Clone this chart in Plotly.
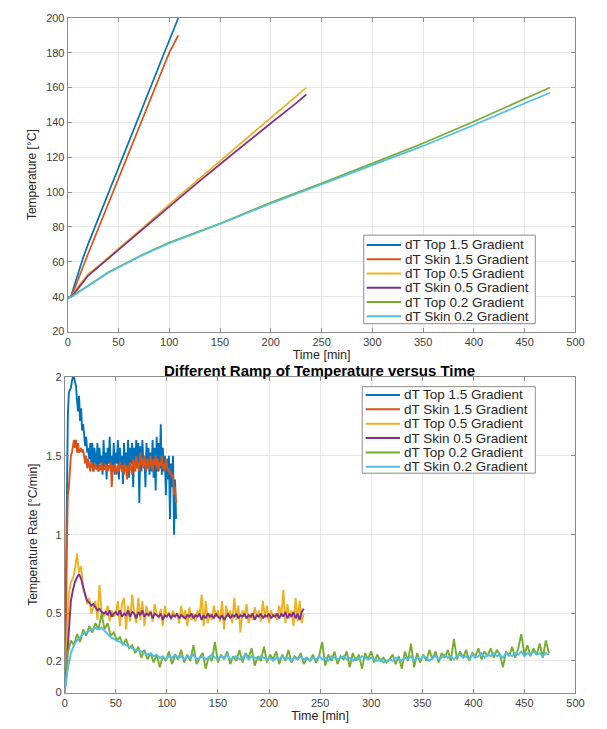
import plotly.graph_objects as go

# ---------------- data: temperature (top panel) ----------------
t_top15 = [0, 3, 5, 10, 15, 20, 30, 40, 50, 60, 70, 80, 90, 100, 109]
T_top15 = [39, 40, 43.5, 53, 62, 70, 85, 99.5, 114, 128.5, 143.5, 158, 172.5, 187, 200]
t_skin15 = [0, 3, 5, 10, 15, 20, 30, 40, 50, 60, 70, 80, 90, 100, 109]
T_skin15 = [39, 40, 42, 49, 57, 64.5, 79, 93.5, 108, 122.5, 137, 151.5, 166, 180, 190]
t_top05 = [0, 5, 10, 15, 20, 30, 40, 50, 75, 100, 125, 150, 175, 200, 225, 235]
T_top05 = [39, 41.5, 45.5, 49.5, 53, 57.5, 62.5, 67, 80, 93, 105.5, 118, 130.5, 143, 155.5, 160]
t_skin05 = [0, 5, 10, 15, 20, 30, 40, 50, 75, 100, 125, 150, 175, 200, 225, 235]
T_skin05 = [39, 41, 44.5, 48.5, 52, 57, 62, 66.5, 79, 92, 104, 116, 128, 139.5, 151, 156]
t_top02 = [0, 5, 10, 20, 30, 40, 50, 75, 100, 150, 200, 250, 300, 350, 400, 450, 475]
T_top02 = [39, 40.5, 42.5, 46.5, 50.5, 54, 57, 64.5, 71, 82, 94, 105, 116.5, 128, 140.5, 153.5, 160]
t_skin02 = [0, 5, 10, 20, 30, 40, 50, 75, 100, 150, 200, 250, 300, 350, 400, 450, 475]
T_skin02 = [39, 40.3, 42.2, 46.2, 50.2, 53.7, 56.7, 64.2, 70.7, 81.7, 93.5, 104.3, 115.5, 126.5, 138.5, 151, 157]

# ---------------- data: temperature rate (bottom panel) ----------------
rate_t15 = list(range(0, 110, 1))
rate_top15 = [0.00, 0.60, 1.30, 1.75, 1.90, 1.92, 1.93, 1.97, 2.00, 2.00,
              1.96, 1.94, 1.85, 1.78, 1.88, 1.72, 1.80, 1.66, 1.70, 1.60,
              1.56, 1.62, 1.52, 1.55, 1.48, 1.58, 1.45, 1.58, 1.40, 1.55,
              1.48, 1.42, 1.58, 1.40, 1.55, 1.45, 1.50, 1.38, 1.60, 1.42,
              1.52, 1.35, 1.55, 1.45, 1.62, 1.40, 1.50, 1.42, 1.58, 1.38,
              1.52, 1.45, 1.60, 1.35, 1.55, 1.42, 1.50, 1.32, 1.58, 1.44,
              1.52, 1.40, 1.60, 1.36, 1.55, 1.45, 1.58, 1.30, 1.55, 1.42,
              1.60, 1.45, 1.58, 1.20, 1.56, 1.40, 1.60, 1.44, 1.50, 1.30,
              1.58, 1.42, 1.55, 1.38, 1.52, 1.40, 1.60, 1.36, 1.55, 1.28,
              1.62, 1.40, 1.58, 1.42, 1.70, 1.38, 1.55, 1.40, 1.50, 1.25,
              1.48, 1.35, 1.50, 1.10, 1.45, 1.30, 1.50, 1.00, 1.35, 1.10]
rate_skin15 = [0.00, 0.30, 0.90, 1.25, 1.30, 1.45, 1.50, 1.52, 1.58, 1.60,
               1.55, 1.60, 1.52, 1.58, 1.52, 1.53, 1.55, 1.52, 1.54, 1.50,
               1.45, 1.50, 1.42, 1.48, 1.45, 1.40, 1.46, 1.44, 1.40, 1.42,
               1.45, 1.41, 1.43, 1.40, 1.44, 1.41, 1.46, 1.40, 1.43, 1.41,
               1.45, 1.42, 1.40, 1.44, 1.42, 1.46, 1.30, 1.44, 1.40, 1.45,
               1.42, 1.38, 1.44, 1.40, 1.46, 1.42, 1.40, 1.44, 1.38, 1.45,
               1.42, 1.35, 1.44, 1.40, 1.46, 1.42, 1.38, 1.48, 1.44, 1.40,
               1.50, 1.42, 1.46, 1.40, 1.52, 1.44, 1.48, 1.42, 1.50, 1.46,
               1.40, 1.48, 1.44, 1.42, 1.50, 1.45, 1.40, 1.48, 1.44, 1.50,
               1.42, 1.48, 1.40, 1.46, 1.44, 1.50, 1.42, 1.45, 1.40, 1.48,
               1.44, 1.40, 1.42, 1.38, 1.40, 1.36, 1.38, 1.25, 1.30, 1.20]

rate_t05 = list(range(0, 236, 2))
rate_top05 = [0.00, 0.35, 0.62, 0.70, 0.72, 0.78, 0.88, 0.76, 0.80, 0.66,
              0.62, 0.56, 0.60, 0.50, 0.54, 0.58, 0.46, 0.68, 0.52, 0.48,
              0.50, 0.55, 0.45, 0.52, 0.48, 0.50, 0.58, 0.42, 0.56, 0.60,
              0.40, 0.55, 0.45, 0.62, 0.50, 0.44, 0.60, 0.46, 0.58, 0.42,
              0.55, 0.48, 0.52, 0.45, 0.56, 0.50, 0.47, 0.53, 0.42, 0.55,
              0.48, 0.51, 0.46, 0.52, 0.48, 0.50, 0.44, 0.55, 0.47, 0.52,
              0.42, 0.54, 0.46, 0.50, 0.45, 0.52, 0.48, 0.62, 0.42, 0.58,
              0.44, 0.50, 0.46, 0.55, 0.48, 0.52, 0.45, 0.58, 0.40, 0.55,
              0.48, 0.52, 0.44, 0.60, 0.46, 0.55, 0.38, 0.52, 0.48, 0.56,
              0.44, 0.50, 0.46, 0.54, 0.48, 0.52, 0.45, 0.58, 0.47, 0.55,
              0.44, 0.52, 0.48, 0.50, 0.46, 0.55, 0.48, 0.65, 0.44, 0.56,
              0.47, 0.52, 0.42, 0.60, 0.45, 0.58, 0.44, 0.50]
rate_skin05 = [0.00, 0.20, 0.45, 0.58, 0.65, 0.70, 0.73, 0.75, 0.72, 0.66,
               0.62, 0.58, 0.57, 0.55, 0.56, 0.54, 0.52, 0.53, 0.51, 0.50,
               0.51, 0.49, 0.52, 0.48, 0.50, 0.51, 0.49, 0.52, 0.48, 0.50,
               0.49, 0.52, 0.48, 0.51, 0.50, 0.47, 0.51, 0.49, 0.52, 0.48,
               0.50, 0.49, 0.51, 0.47, 0.50, 0.49, 0.48, 0.50, 0.46, 0.49,
               0.48, 0.50, 0.47, 0.49, 0.48, 0.50, 0.47, 0.49, 0.48, 0.47,
               0.49, 0.48, 0.50, 0.47, 0.49, 0.48, 0.50, 0.46, 0.49, 0.47,
               0.50, 0.48, 0.49, 0.47, 0.50, 0.48, 0.47, 0.49, 0.46, 0.48,
               0.50, 0.47, 0.49, 0.48, 0.50, 0.47, 0.49, 0.48, 0.50, 0.47,
               0.49, 0.48, 0.50, 0.46, 0.49, 0.48, 0.50, 0.47, 0.49, 0.48,
               0.50, 0.47, 0.49, 0.48, 0.50, 0.47, 0.50, 0.48, 0.51, 0.47,
               0.50, 0.48, 0.51, 0.47, 0.50, 0.46, 0.51, 0.53]

rate_t02 = list(range(0, 475, 3))
rate_top02 = [0.00, 0.25, 0.33, 0.30, 0.37, 0.32, 0.40, 0.36, 0.42, 0.38,
              0.44, 0.40, 0.50, 0.40, 0.44, 0.36, 0.38, 0.33, 0.35, 0.30,
              0.34, 0.28, 0.30, 0.25, 0.29, 0.22, 0.27, 0.21, 0.25, 0.19,
              0.24, 0.16, 0.23, 0.20, 0.26, 0.18, 0.24, 0.21, 0.27, 0.19,
              0.24, 0.20, 0.30, 0.18, 0.22, 0.25, 0.15, 0.23, 0.20, 0.32,
              0.19, 0.24, 0.21, 0.26, 0.18, 0.23, 0.20, 0.27, 0.19, 0.25,
              0.22, 0.28, 0.17, 0.23, 0.20, 0.29, 0.19, 0.24, 0.21, 0.26,
              0.18, 0.24, 0.20, 0.27, 0.19, 0.23, 0.21, 0.25, 0.18, 0.22,
              0.20, 0.24, 0.19, 0.23, 0.32, 0.17, 0.24, 0.20, 0.26, 0.18,
              0.23, 0.21, 0.26, 0.16, 0.25, 0.20, 0.24, 0.15, 0.25, 0.21,
              0.26, 0.19, 0.24, 0.20, 0.22, 0.19, 0.21, 0.24, 0.18, 0.23,
              0.15, 0.26, 0.20, 0.31, 0.16, 0.25, 0.19, 0.24, 0.20, 0.27,
              0.21, 0.26, 0.19, 0.25, 0.22, 0.27, 0.20, 0.34, 0.21, 0.26,
              0.22, 0.27, 0.20, 0.25, 0.23, 0.28, 0.21, 0.26, 0.23, 0.28,
              0.22, 0.27, 0.24, 0.16, 0.26, 0.23, 0.29, 0.22, 0.28, 0.37,
              0.24, 0.30, 0.23, 0.28, 0.24, 0.31, 0.22, 0.33, 0.25]
rate_skin02 = [0.00, 0.15, 0.25, 0.30, 0.33, 0.35, 0.37, 0.38, 0.39, 0.40,
               0.41, 0.40, 0.41, 0.39, 0.37, 0.35, 0.34, 0.33, 0.32, 0.31,
               0.30, 0.29, 0.28, 0.27, 0.27, 0.26, 0.25, 0.24, 0.25, 0.23,
               0.24, 0.22, 0.23, 0.21, 0.23, 0.22, 0.24, 0.22, 0.23, 0.21,
               0.23, 0.22, 0.24, 0.21, 0.22, 0.23, 0.21, 0.22, 0.24, 0.22,
               0.21, 0.23, 0.22, 0.24, 0.21, 0.22, 0.23, 0.21, 0.22, 0.24,
               0.21, 0.23, 0.22, 0.21, 0.23, 0.22, 0.21, 0.22, 0.20, 0.22,
               0.21, 0.23, 0.21, 0.22, 0.20, 0.22, 0.21, 0.23, 0.21, 0.22,
               0.20, 0.22, 0.21, 0.23, 0.21, 0.22, 0.20, 0.23, 0.22, 0.21,
               0.22, 0.23, 0.21, 0.22, 0.20, 0.22, 0.21, 0.23, 0.22, 0.21,
               0.22, 0.21, 0.20, 0.21, 0.19, 0.20, 0.21, 0.20, 0.22, 0.21,
               0.20, 0.22, 0.21, 0.23, 0.20, 0.22, 0.21, 0.23, 0.22, 0.20,
               0.22, 0.23, 0.21, 0.22, 0.24, 0.22, 0.23, 0.21, 0.23, 0.24,
               0.22, 0.23, 0.21, 0.24, 0.22, 0.23, 0.25, 0.22, 0.24, 0.23,
               0.25, 0.23, 0.24, 0.22, 0.25, 0.24, 0.23, 0.25, 0.24, 0.26,
               0.23, 0.25, 0.24, 0.26, 0.24, 0.25, 0.23, 0.25, 0.24]

names = ["dT Top 1.5 Gradient", "dT Skin 1.5 Gradient", "dT Top 0.5 Gradient",
         "dT Skin 0.5 Gradient", "dT Top 0.2 Gradient", "dT Skin 0.2 Gradient"]
colors = ["#0072BD", "#D95319", "#EDB120", "#7E2F8E", "#77AC30", "#4DBEEE"]

x_ticks = [0, 50, 100, 150, 200, 250, 300, 350, 400, 450, 500]
top_y_ticks = [20, 40, 60, 80, 100, 120, 140, 160, 180, 200]
rate_y_ticks = [0, 0.2, 0.5, 1, 1.5, 2]
rate_y_text = ["0", "0.2", "0.5", "1", "1.5", "2"]

top_series = [(t_top15, T_top15), (t_skin15, T_skin15), (t_top05, T_top05),
              (t_skin05, T_skin05), (t_top02, T_top02), (t_skin02, T_skin02)]
rate_series = [(rate_t15, rate_top15), (rate_t15, rate_skin15), (rate_t05, rate_top05),
               (rate_t05, rate_skin05), (rate_t02, rate_top02), (rate_t02, rate_skin02)]

W, H = 607, 729
FONT = "Liberation Sans, Arial, sans-serif"
TICKC = "#404040"
FRAME = "#8c8c8c"


def px_x(p):
    return p / W


def px_y(p):
    return 1 - p / H


fig = go.Figure()
for i, (xs, ys) in enumerate(top_series):
    fig.add_trace(go.Scatter(x=xs, y=ys, mode="lines", name=names[i], showlegend=False,
                             line=dict(color=colors[i], width=1.7),
                             xaxis="x", yaxis="y"))
for i, (xs, ys) in enumerate(rate_series):
    fig.add_trace(go.Scatter(x=xs, y=ys, mode="lines", name=names[i], showlegend=False,
                             line=dict(color=colors[i], width=1.9),
                             xaxis="x2", yaxis="y2"))

ax_common = dict(showline=True, linecolor=FRAME, linewidth=1, mirror="ticks",
                 ticks="inside", ticklen=4, tickcolor=FRAME,
                 showgrid=True, gridcolor="#e8e8e8", gridwidth=1, zeroline=False,
                 tickfont=dict(family=FONT, size=11, color=TICKC))
title_font = dict(family=FONT, size=12, color="#262626")
xtitle_font = dict(family=FONT, size=12.5, color="#262626")

# ---- legend boxes drawn in paper space (box, sample lines, labels) ----
shapes = []
annotations = []
legend_specs = [
    # box left, box top, box right, box bottom, first row centre, row pitch, line x0, line x1, text x
    (368, 233, 543, 323, 243, 14.5, 371, 406, 408),
    (366.5, 387, 543, 475, 395.5, 14.6, 370, 405, 407),
]
for (bl, bt, br, bb, r0, pitch, lx0, lx1, tx) in legend_specs:
    shapes.append(dict(type="rect", xref="paper", yref="paper",
                       x0=px_x(bl), x1=px_x(br), y0=px_y(bb), y1=px_y(bt),
                       line=dict(color=FRAME, width=1), fillcolor="white", layer="above"))
    for i, nm in enumerate(names):
        yc = r0 + i * pitch
        shapes.append(dict(type="line", xref="paper", yref="paper",
                           x0=px_x(lx0), x1=px_x(lx1), y0=px_y(yc), y1=px_y(yc),
                           line=dict(color=colors[i], width=2), layer="above"))
        annotations.append(dict(text=nm, x=px_x(tx), y=px_y(yc), xref="paper", yref="paper",
                                xanchor="left", yanchor="middle", showarrow=False,
                                font=dict(family=FONT, size=13.5, color="#262626")))

annotations.append(dict(text="<b>Different Ramp of Temperature versus Time</b>",
                        x=px_x(323), y=px_y(370.5), xref="paper", yref="paper",
                        xanchor="center", yanchor="middle", showarrow=False,
                        font=dict(family=FONT, size=15, color="#000000")))

fig.update_layout(
    width=W, height=H, margin=dict(l=0, r=0, t=0, b=0),
    paper_bgcolor="white", plot_bgcolor="white",
    font=dict(family=FONT, size=11, color=TICKC),
    showlegend=False,
    xaxis=dict(domain=[px_x(66), px_x(584)], anchor="y", range=[0, 500], tickvals=x_ticks,
               title=dict(text="Time [min]", font=xtitle_font, standoff=0),
               **ax_common),
    yaxis=dict(domain=[px_y(331), px_y(12)], anchor="x", range=[20, 200], tickvals=top_y_ticks,
               title=dict(text="Temperature [°C]", font=title_font, standoff=6),
               **ax_common),
    xaxis2=dict(domain=[px_x(63), px_x(584)], anchor="y2", range=[0, 500], tickvals=x_ticks,
                title=dict(text="Time [min]", font=xtitle_font, standoff=2),
                **ax_common),
    yaxis2=dict(domain=[px_y(698), px_y(377)], anchor="x2", range=[0, 2], tickvals=rate_y_ticks,
                ticktext=rate_y_text,
                title=dict(text="Temperature Rate [°C/min]", font=title_font, standoff=6),
                **ax_common),
    shapes=shapes,
    annotations=annotations,
)

fig.write_html("out.html")
